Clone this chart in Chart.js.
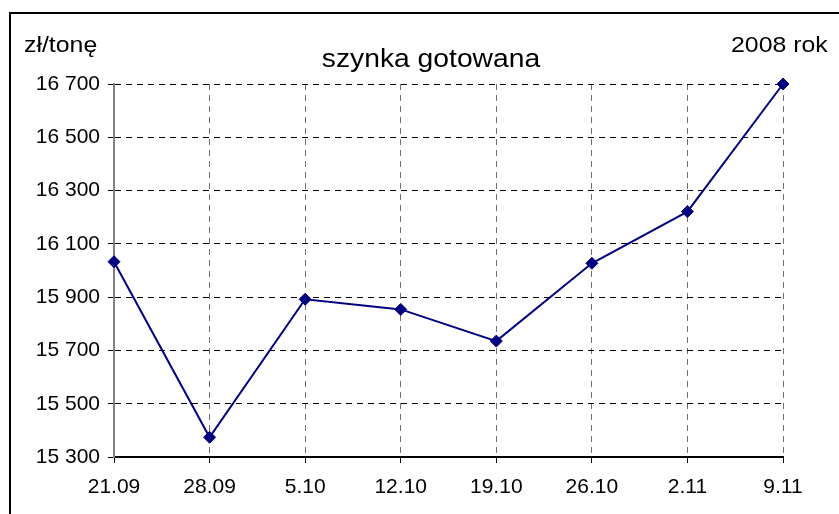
<!DOCTYPE html>
<html>
<head>
<meta charset="utf-8">
<script src="https://cdn.jsdelivr.net/npm/chart.js@4"></script>
<style>
  html, body { margin: 0; padding: 0; background: #fff; }
  #wrap { position: relative; width: 839px; height: 514px; overflow: hidden; background: #fff; }
  #frame { position: absolute; left: 9px; top: 12px; width: 900px; height: 600px;
           border-left: 2px solid #000; border-top: 2px solid #000; box-sizing: border-box; }
  #cwrap { position: absolute; left: 0; top: 0; width: 839px; height: 514px; }
  .lbl { position: absolute; font-family: "Liberation Sans", Arial, sans-serif; color: #000;
         white-space: nowrap; line-height: 1; transform-origin: left top; }
  #title { font-size: 25px; top: 46px; left: 431px; transform: translateX(-50%) scaleX(1.13); transform-origin: center top; }
  #unit { font-size: 22px; top: 34px; left: 24px; transform: scaleX(1.13); }
  #year { font-size: 22px; top: 34px; left: 731px; transform: scaleX(1.13); }
</style>
</head>
<body>
<div id="wrap">
  <div id="frame"></div>
  <div id="cwrap"><canvas id="c"></canvas></div>
  <div class="lbl" id="unit">zł/tonę</div>
  <div class="lbl" id="title">szynka gotowana</div>
  <div class="lbl" id="year">2008 rok</div>
</div>
<script>
const categories = ["21.09", "28.09", "5.10", "12.10", "19.10", "26.10", "2.11", "9.11"];
const prices = [16033, 15374, 15892, 15854, 15735, 16027, 16221, 16700];
const yMin = 15300, yMax = 16700, yStep = 200;

function fmt(v) { return String(v).replace(/\B(?=(\d{3})+(?!\d))/g, " "); }

const FONT = { family: "'Liberation Sans', Arial, sans-serif", size: 21 };

new Chart(document.getElementById("c"), {
  type: "line",
  data: {
    labels: categories,
    datasets: [{
      data: prices,
      borderColor: "#000080",
      backgroundColor: "#000080",
      borderWidth: 2,
      tension: 0,
      pointStyle: "rectRot",
      pointRadius: 6,
      pointBorderWidth: 1,
      pointBackgroundColor: "#000080",
      pointBorderColor: "#000080",
      clip: false
    }]
  },
  options: {
    responsive: true,
    maintainAspectRatio: false,
    animation: false,
    devicePixelRatio: 1,
    layout: { padding: { left: 0, right: 56, top: 84, bottom: 0 } },
    plugins: { legend: { display: false }, title: { display: false }, tooltip: { enabled: false } },
    scales: {
      x: {
        type: "category",
        offset: false,
        afterFit: (s) => { s.height = 57; },
        grid: { color: "#707070", lineWidth: 1, tickColor: "#000", tickLength: 6, tickWidth: 1, drawTicks: true },
        border: { display: true, color: "#000", width: 2, dash: [6, 5] },
        ticks: { color: "#000", font: FONT, padding: 12, maxRotation: 0, autoSkip: false }
      },
      y: {
        min: yMin, max: yMax,
        afterFit: (s) => { s.width = 114; },
        grid: { color: "#000", lineWidth: 1, tickColor: "#000", tickLength: 6, tickWidth: 1 },
        border: { display: true, color: "#808080", width: 2, dash: [6, 5] },
        ticks: { stepSize: yStep, color: "#000", font: FONT, padding: 8, callback: (v) => fmt(v) }
      }
    }
  }
});
</script>
</body>
</html>
